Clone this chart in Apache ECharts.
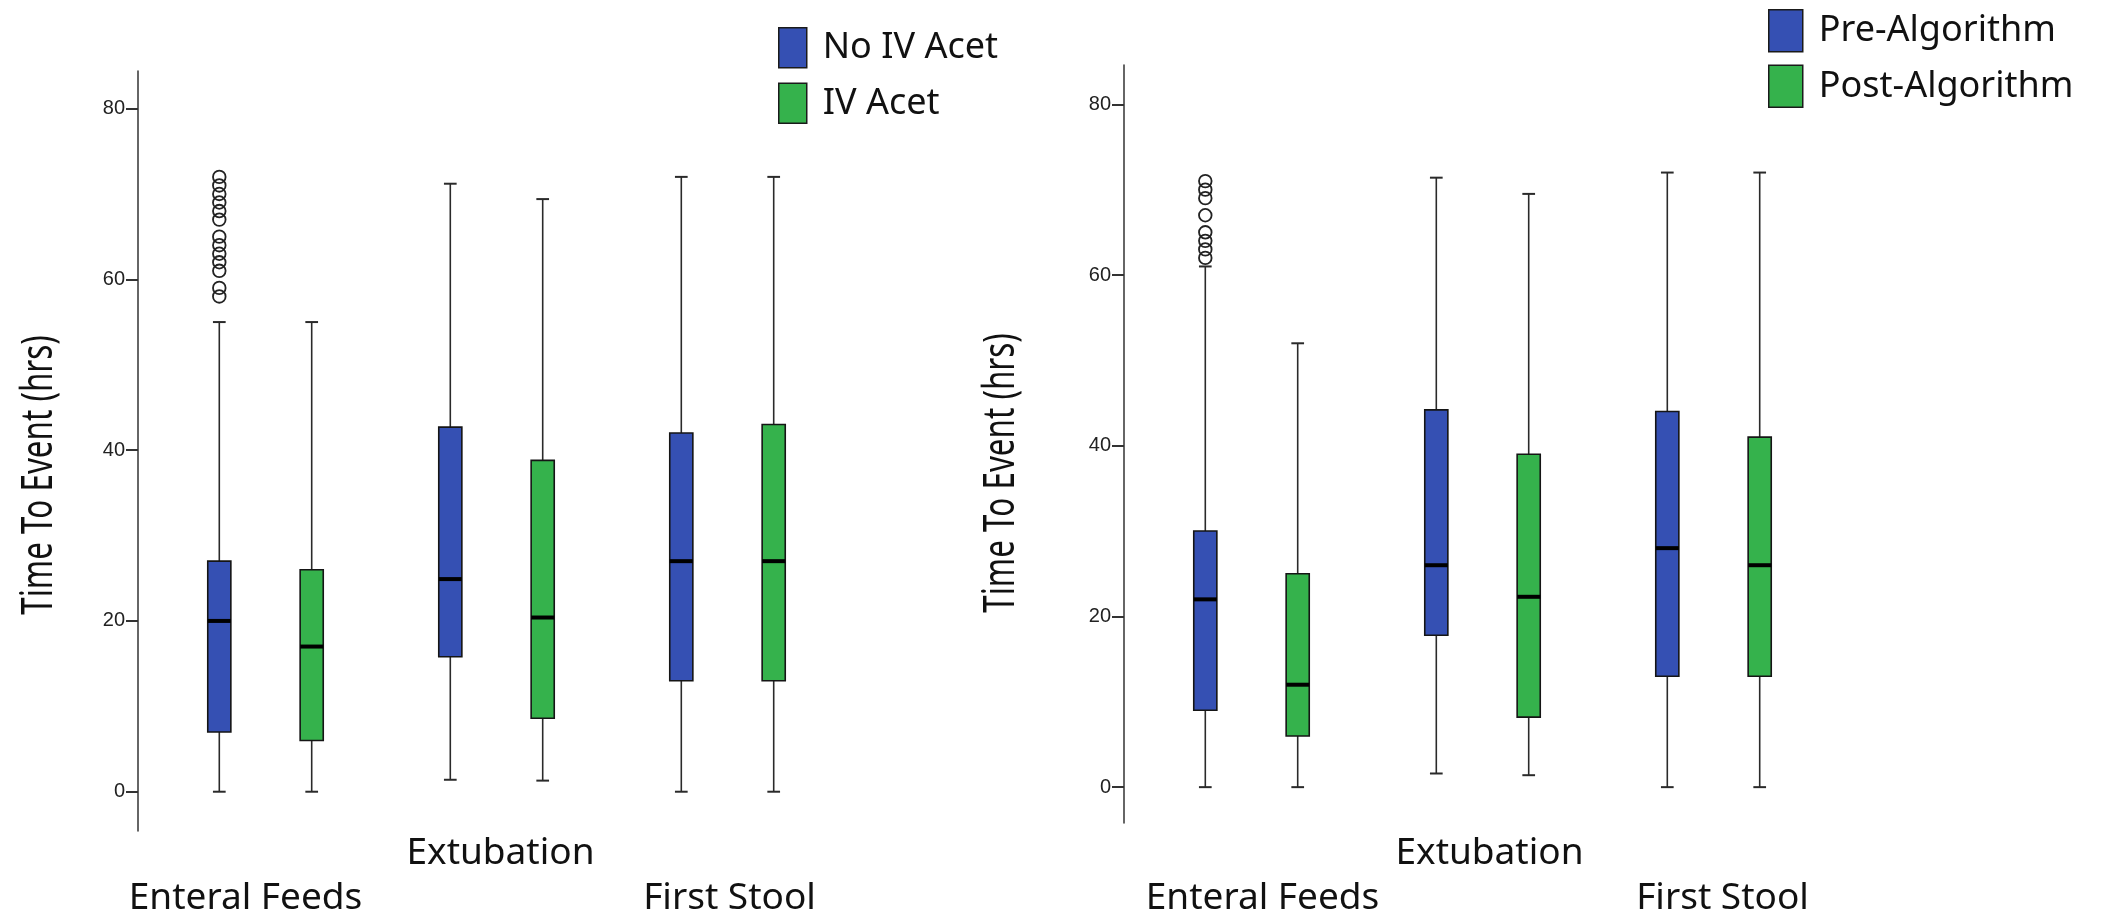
<!DOCTYPE html>
<html>
<head>
<meta charset="utf-8">
<script src="https://cdn.jsdelivr.net/npm/echarts@6.0.0/dist/echarts.min.js"></script>
<style>
  html, body { margin: 0; padding: 0; background: #fff; }
  #chart { width: 2109px; height: 921px; }
</style>
</head>
<body>
<div id="chart"></div>
<script>
// categories + ticks shared by both panels
const categories = ["Enteral Feeds", "Extubation", "First Stool"];
const yTicks = [0, 20, 40, 60, 80];
const yTitle = "Time To Event (hrs)";

// box rows: [whisker low, Q1, median, Q3, whisker high], one per category
const noIvAcet = [
  [0, 7, 20, 27, 55],
  [1.4, 15.8, 24.9, 42.7, 71.2],
  [0, 13, 27, 42, 72]
];
const ivAcet = [
  [0, 6, 17, 26, 55],
  [1.3, 8.6, 20.4, 38.8, 69.4],
  [0, 13, 27, 43, 72]
];
// outliers, Enteral Feeds only
const noIvAcetOutliers = [58, 59, 61, 62, 63, 64, 65, 67, 68, 69, 70, 71, 72];

const preAlgorithm = [
  [0, 9, 22, 30, 61],
  [1.6, 17.8, 26, 44.2, 71.4],
  [0, 13, 28, 44, 72]
];
const postAlgorithm = [
  [0, 6, 12, 25, 52],
  [1.4, 8.2, 22.3, 39, 69.5],
  [0, 13, 26, 41, 72]
];
const preAlgorithmOutliers = [62, 63, 64, 65, 67, 69, 70, 71];

const BLUE = "#3550b3";
const GREEN = "#35b24c";
const SHIFT = 0.2; // box centre offset, as part of the band width

function boxSeries(name, rows, side, color, idx) {
  return {
    name: name,
    type: "custom",
    xAxisIndex: idx,
    yAxisIndex: idx,
    itemStyle: { color: color },
    encode: { x: 0, y: [1, 2, 3, 4, 5] },
    data: rows.map((r, i) => [i].concat(r)),
    renderItem: function (params, api) {
      const cat = api.value(0);
      const band = api.size([1, 0])[0];
      const x = api.coord([cat, 0])[0] + side * SHIFT * band;
      const half = band * 0.05;
      const cap = half * 0.55;
      const yLo = api.coord([cat, api.value(1)])[1];
      const yQ1 = api.coord([cat, api.value(2)])[1];
      const yMed = api.coord([cat, api.value(3)])[1];
      const yQ3 = api.coord([cat, api.value(4)])[1];
      const yHi = api.coord([cat, api.value(5)])[1];
      const wStyle = { stroke: "#2a2a2a", lineWidth: 1.6 };
      return {
        type: "group",
        children: [
          { type: "line", shape: { x1: x, y1: yHi, x2: x, y2: yQ3 }, style: wStyle },
          { type: "line", shape: { x1: x, y1: yQ1, x2: x, y2: yLo }, style: wStyle },
          { type: "line", shape: { x1: x - cap, y1: yHi, x2: x + cap, y2: yHi }, style: { stroke: "#2a2a2a", lineWidth: 2 } },
          { type: "line", shape: { x1: x - cap, y1: yLo, x2: x + cap, y2: yLo }, style: { stroke: "#2a2a2a", lineWidth: 2 } },
          {
            type: "rect",
            shape: { x: x - half, y: yQ3, width: half * 2, height: yQ1 - yQ3 },
            style: { fill: api.visual("color"), stroke: "#151515", lineWidth: 1.6 }
          },
          { type: "line", shape: { x1: x - half, y1: yMed, x2: x + half, y2: yMed }, style: { stroke: "#000", lineWidth: 4 } }
        ]
      };
    }
  };
}

function outlierSeries(name, values, catIdx, side, idx) {
  return {
    name: name,
    type: "custom",
    xAxisIndex: idx,
    yAxisIndex: idx,
    encode: { x: 0, y: 1 },
    data: values.map(v => [catIdx, v]),
    renderItem: function (params, api) {
      const band = api.size([1, 0])[0];
      const p = api.coord([api.value(0), api.value(1)]);
      return {
        type: "circle",
        shape: { cx: p[0] + side * SHIFT * band, cy: p[1], r: 6.3 },
        style: { fill: "none", stroke: "#222", lineWidth: 1.8 }
      };
    }
  };
}

// per-label nudge (px, + = right) so the staggered labels sit where the original has them
function xAxisFor(idx, margin, nudges) {
  const rich = {};
  nudges.forEach((n, i) => {
    rich["c" + i] = {
      fontSize: 37,
      lineHeight: 45,
      fontFamily: "Noto Sans",
      color: "#111",
      padding: n > 0 ? [0, 0, 0, 2 * n] : [0, -2 * n, 0, 0]
    };
  });
  return {
    type: "category",
    gridIndex: idx,
    data: categories,
    axisLine: { show: false },
    axisTick: { show: false },
    axisLabel: {
      interval: 0,
      margin: margin,
      fontSize: 37,
      lineHeight: 45,
      fontFamily: "Noto Sans",
      color: "#111",
      rich: rich,
      formatter: (v, i) => (i === 1 ? "" : "\n") + "{c" + i + "|" + v + "}"
    }
  };
}

function yAxisFor(idx, min, max) {
  return {
    type: "value",
    gridIndex: idx,
    min: min,
    max: max,
    offset: 12,
    splitLine: { show: false },
    axisLine: { show: true, lineStyle: { color: "#333", width: 1.5 } },
    axisTick: { show: true, customValues: yTicks, length: 12, lineStyle: { color: "#333", width: 2 } },
    axisLabel: {
      customValues: yTicks,
      margin: 13,
      fontSize: 20,
      fontFamily: "Liberation Sans",
      color: "#222"
    }
  };
}

// condensed, rotated axis title (the original uses a narrow face)
function titleText(x, y) {
  return {
    type: "text",
    x: x,
    y: y,
    rotation: Math.PI / 2,
    scaleX: 0.73,
    style: {
      text: yTitle,
      font: "43px 'Noto Sans'",
      fill: "#111",
      align: "center",
      verticalAlign: "middle"
    }
  };
}

function legendFor(names, left, top, w, h, gap) {
  return {
    data: names,
    orient: "vertical",
    left: left,
    top: top,
    icon: "rect",
    itemWidth: w,
    itemHeight: h,
    itemGap: gap,
    itemStyle: { borderColor: "#1a1a1a", borderWidth: 1.5 },
    textStyle: { fontSize: 36, fontFamily: "Noto Sans", color: "#111", padding: [0, 0, 0, 11] },
    selectedMode: false
  };
}

const chart = echarts.init(document.getElementById("chart"));
chart.setOption({
  animation: false,
  backgroundColor: "#fff",
  grid: [
    { left: 150, top: 71, width: 693, height: 760 },
    { left: 1136, top: 65, width: 693, height: 758 }
  ],
  xAxis: [xAxisFor(0, 0, [-20, 4, 2]), xAxisFor(1, 8, [11, 7, 9])],
  yAxis: [yAxisFor(0, -4.6, 84.4), yAxisFor(1, -4.2, 84.6)],
  graphic: [titleText(40, 475), titleText(1002, 473)],
  legend: [
    legendFor(["No IV Acet", "IV Acet"], 773, 22, 28, 40, 14),
    legendFor(["Pre-Algorithm", "Post-Algorithm"], 1763, 4, 34, 42, 12)
  ],
  series: [
    boxSeries("No IV Acet", noIvAcet, -1, BLUE, 0),
    boxSeries("IV Acet", ivAcet, 1, GREEN, 0),
    outlierSeries("No IV Acet outliers", noIvAcetOutliers, 0, -1, 0),
    boxSeries("Pre-Algorithm", preAlgorithm, -1, BLUE, 1),
    boxSeries("Post-Algorithm", postAlgorithm, 1, GREEN, 1),
    outlierSeries("Pre-Algorithm outliers", preAlgorithmOutliers, 0, -1, 1)
  ]
});
</script>
</body>
</html>
